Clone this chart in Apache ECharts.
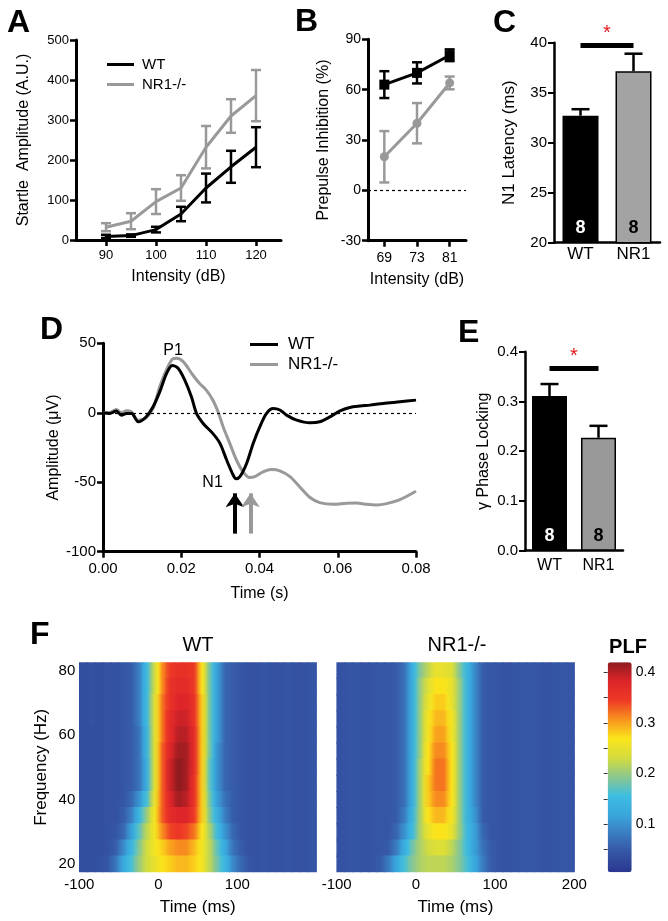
<!DOCTYPE html>
<html><head><meta charset="utf-8">
<script src="https://cdn.jsdelivr.net/npm/echarts@6/dist/echarts.min.js"></script>
<style>html,body{margin:0;padding:0;background:#fff}#c{width:668px;height:921px}</style>
</head><body><div id="c"></div>
<script>
// ---------------- DATA ----------------
// Panel A: startle amplitude
const dbA = [90, 95, 100, 105, 110, 115, 120];
const wtA = [9, 11, 26, 65, 130, 183, 232];
const wtAErr = [4, 3, 7, 18, 36, 40, 50];
const nrA = [32, 47, 96, 130, 232, 310, 361];
const nrAErr = [10, 20, 31, 32, 53, 42, 64];
const ticksAX = [90, 100, 110, 120];

// Panel B: prepulse inhibition
const catsB = ['69', '73', '81'];
const wtB = [63, 70, 80.5];
const wtBErr = [8, 6.3, 3.5];
const nrB = [20, 40, 64];
const nrBErr = [15.3, 12, 3.8];

// Panel C: N1 latency
const catsC = ['WT', 'NR1'];
const meanC = [32.7, 37.15];
const semC = [0.65, 1.75];
const nC = [8, 8];
const sigC = 39.7;

// Panel D: ERP traces
const tWT = [0, .0017, .0034, .0047, .006, .0073, .009, .011, .0128, .0145, .0162, .0177, .0192, .0209, .0226, .0239, .0256, .0281, .0299, .0316, .0333, .034, .035, .0367, .0384, .0401, .0418, .0435, .0452, .0469, .0495, .0529, .0554, .058, .0606, .0631, .0657, .0682, .0716, .0759, .08];
const vWT = [0, -.5, 1.2, -1.7, -.5, -.5, -6.5, -3, 4.3, 15, 28, 34, 32, 23.5, 11.5, -.5, -7.7, -15, -22, -34, -45, -47.5, -46, -36.5, -22, -10, -.5, 3, 2, -1.7, -5.3, -7.2, -6.5, -3, 1.4, 3.8, 4.8, 5.5, 6.7, 7.9, 9.1];
const tNR = [0, .0017, .0034, .0047, .006, .0072, .009, .0111, .0128, .0145, .0162, .0177, .0188, .0205, .023, .0247, .0264, .0281, .0294, .0307, .0324, .0341, .0358, .0375, .0388, .0409, .0431, .0452, .0478, .0503, .0529, .0554, .0588, .0623, .0648, .0674, .0699, .0725, .0759, .08];
const vNR = [0, .2, 2.4, 0, 1.4, .7, -5.3, -3.4, 3.1, 18.7, 30.8, 38.5, 39.2, 36.8, 27, 21, 16.3, 9, .7, -10, -22, -34, -42.5, -46.6, -46, -42.5, -40.9, -41.8, -46, -53.4, -61, -64.7, -65.9, -65.1, -64.9, -65.9, -66.3, -65.4, -62.5, -56.5];
const arrowT = [0.0337, 0.0377];
const arrowFrom = -87, arrowTo = -58;
const peakNames = ['P1', 'N1'];
const peakT = [0.0179, 0.028];
const peakV = [45, -50];

// Panel E: gamma phase locking
const catsE = ['WT', 'NR1'];
const meanE = [0.311, 0.227];
const semE = [0.024, 0.024];
const nE = [8, 8];
const sigE = 0.367;

// Panel F: phase-locking factor (rows top 80 Hz -> bottom 20 Hz), 10 ms x 5 Hz bins
const timeBins = [-95,-85,-75,-65,-55,-45,-35,-25,-15,-5,5,15,25,35,45,55,65,75,85,95,105,115,125,135,145,155,165,175,185,195];
const freqBins = [80,75,70,65,60,55,50,45,40,35,30,25,20];
const plfWT = [
 [.035,.04,.035,.04,.04,.045,.05,.08,.15,.23,.31,.35,.36,.36,.35,.27,.18,.11,.06,.05,.045,.04,.04,.045,.04,.04,.045,.04,.04,.045],
 [.035,.04,.035,.04,.04,.045,.05,.08,.15,.23,.31,.36,.37,.37,.35,.27,.18,.11,.06,.05,.045,.04,.04,.045,.04,.04,.045,.04,.04,.045],
 [.035,.04,.035,.04,.04,.045,.05,.08,.15,.24,.32,.36,.38,.38,.36,.28,.18,.11,.06,.05,.045,.04,.04,.045,.04,.04,.045,.04,.04,.045],
 [.035,.04,.035,.04,.04,.045,.05,.08,.15,.24,.32,.37,.39,.39,.36,.28,.18,.11,.06,.05,.045,.04,.04,.045,.04,.04,.045,.04,.04,.045],
 [.035,.035,.035,.04,.04,.045,.05,.07,.14,.24,.32,.37,.40,.40,.37,.28,.18,.11,.06,.05,.045,.04,.04,.045,.04,.04,.045,.04,.04,.045],
 [.035,.035,.035,.04,.04,.045,.05,.07,.14,.24,.33,.38,.41,.41,.37,.28,.18,.10,.06,.05,.045,.04,.04,.045,.04,.04,.045,.04,.04,.045],
 [.035,.035,.035,.04,.04,.045,.05,.07,.13,.24,.33,.39,.42,.41,.37,.28,.17,.10,.06,.05,.045,.04,.04,.045,.04,.04,.045,.04,.04,.045],
 [.035,.035,.035,.04,.04,.045,.05,.07,.13,.24,.33,.39,.42,.41,.36,.28,.17,.10,.06,.05,.045,.04,.04,.045,.04,.04,.045,.04,.04,.045],
 [.035,.035,.035,.04,.04,.045,.06,.10,.16,.25,.33,.38,.41,.40,.36,.28,.18,.11,.07,.05,.045,.04,.04,.045,.04,.04,.045,.04,.04,.045],
 [.035,.035,.035,.04,.04,.05,.08,.14,.20,.26,.33,.37,.38,.38,.35,.28,.19,.13,.08,.05,.045,.04,.04,.045,.04,.04,.045,.04,.04,.045],
 [.035,.035,.035,.04,.045,.06,.11,.17,.22,.26,.31,.34,.35,.34,.32,.27,.21,.15,.10,.06,.045,.04,.04,.045,.04,.04,.045,.04,.04,.045],
 [.035,.035,.035,.04,.05,.09,.14,.19,.23,.26,.28,.30,.31,.31,.29,.26,.22,.17,.12,.07,.05,.04,.04,.045,.04,.04,.045,.04,.04,.045],
 [.035,.035,.04,.045,.07,.12,.16,.20,.23,.25,.27,.28,.29,.29,.28,.26,.22,.18,.14,.09,.06,.045,.04,.045,.04,.04,.045,.04,.04,.045]
];
const plfNR = [
 [.04,.045,.045,.04,.045,.045,.045,.05,.07,.13,.19,.22,.25,.25,.24,.19,.14,.09,.05,.045,.045,.04,.045,.045,.045,.045,.04,.045,.045,.045],
 [.04,.045,.045,.04,.045,.045,.045,.05,.07,.13,.20,.24,.27,.27,.25,.20,.14,.09,.05,.045,.045,.04,.045,.045,.045,.045,.04,.045,.045,.045],
 [.04,.045,.045,.04,.045,.045,.045,.05,.07,.13,.20,.25,.28,.28,.25,.20,.14,.09,.05,.045,.045,.04,.045,.045,.045,.045,.04,.045,.045,.045],
 [.04,.045,.045,.04,.045,.045,.045,.05,.07,.13,.20,.26,.29,.29,.26,.20,.14,.09,.05,.045,.045,.04,.045,.045,.045,.045,.04,.045,.045,.045],
 [.04,.045,.045,.04,.045,.045,.045,.05,.07,.13,.20,.26,.30,.30,.26,.20,.14,.09,.05,.045,.045,.04,.045,.045,.045,.045,.04,.045,.045,.045],
 [.04,.045,.045,.04,.045,.045,.045,.05,.07,.13,.20,.27,.31,.31,.27,.20,.14,.09,.05,.045,.045,.04,.045,.045,.045,.045,.04,.045,.045,.045],
 [.04,.045,.045,.04,.045,.045,.045,.05,.07,.13,.21,.27,.32,.32,.27,.20,.14,.09,.05,.045,.045,.04,.045,.045,.045,.045,.04,.045,.045,.045],
 [.04,.045,.045,.04,.045,.045,.045,.05,.07,.13,.21,.28,.32,.32,.27,.20,.14,.09,.05,.045,.045,.04,.045,.045,.045,.045,.04,.045,.045,.045],
 [.04,.045,.045,.04,.045,.045,.045,.05,.07,.13,.21,.28,.31,.31,.27,.20,.14,.09,.05,.045,.045,.04,.045,.045,.045,.045,.04,.045,.045,.045],
 [.04,.045,.045,.04,.045,.045,.045,.05,.08,.14,.21,.27,.29,.29,.26,.20,.14,.10,.05,.045,.045,.04,.045,.045,.045,.045,.04,.045,.045,.045],
 [.04,.045,.045,.04,.045,.045,.045,.06,.10,.15,.21,.25,.27,.27,.25,.20,.15,.11,.06,.045,.045,.04,.045,.045,.045,.045,.04,.045,.045,.045],
 [.04,.045,.045,.04,.045,.045,.05,.08,.13,.18,.21,.23,.24,.24,.22,.19,.15,.11,.07,.05,.045,.04,.045,.045,.045,.045,.04,.045,.045,.045],
 [.04,.045,.045,.04,.045,.05,.08,.12,.16,.19,.21,.22,.22,.22,.21,.19,.16,.12,.08,.05,.045,.04,.045,.045,.045,.045,.04,.045,.045,.045]
];
const binT = 10, binF = 5;
const plfMin = 0.005, plfMax = 0.42;
const plfTicks = [0.1, 0.2, 0.3, 0.4];

// ---------------- STYLE ----------------
const FONT = '"Liberation Sans", Arial, Helvetica, sans-serif';
const BLACK = '#000', GRAY = '#999999';
const JET = ['#2a3790', '#3553a4', '#3a7bc0', '#39a6dc', '#3dbde2', '#8cc78e', '#d4dc3e', '#fbe51b', '#f8931e', '#ee3a25', '#dd252a', '#8e1b1f'];

// colour lookup with the same linear mapping the visualMap uses
function cmap(v) {
  const f = Math.max(0, Math.min(1, (v - plfMin) / (plfMax - plfMin)));
  return echarts.color.lerp(f, JET);
}

function vAxis(o) {
  const w = o.lineWidth || 3;
  const ax = {
    gridIndex: o.grid, type: o.type || 'value',
    min: o.min, max: o.max, interval: o.interval,
    data: o.data,
    boundaryGap: o.type === 'category' ? true : undefined,
    axisLine: { show: true, onZero: false, lineStyle: { color: BLACK, width: w } },
    axisTick: { show: o.tick !== false, length: 6, inside: false, alignWithLabel: true, lineStyle: { color: BLACK, width: w * 0.85 } },
    axisLabel: { color: BLACK, fontSize: o.fs || 13, fontFamily: FONT, margin: o.margin || 7, formatter: o.fmt },
    splitLine: { show: false },
    name: o.name, nameLocation: 'middle', nameGap: o.gap,
    nameTextStyle: { color: BLACK, fontSize: o.nfs || 16, fontFamily: FONT }
  };
  if (o.custom) { ax.axisTick.customValues = o.custom; ax.axisLabel.customValues = o.custom; }
  return ax;
}

function errRender(capHalf, upOnly, color, width) {
  return function (params, api) {
    const x = api.value(0), m = api.value(1), e = api.value(2);
    const pT = api.coord([x, m + e]);
    const pB = api.coord([x, upOnly ? m : m - e]);
    const st = { stroke: color, lineWidth: width, fill: null };
    const ch = [
      { type: 'line', shape: { x1: pT[0], y1: pT[1], x2: pB[0], y2: pB[1] }, style: st },
      { type: 'line', shape: { x1: pT[0] - capHalf, y1: pT[1], x2: pT[0] + capHalf, y2: pT[1] }, style: st }
    ];
    if (!upOnly) ch.push({ type: 'line', shape: { x1: pB[0] - capHalf, y1: pB[1], x2: pB[0] + capHalf, y2: pB[1] }, style: st });
    return { type: 'group', children: ch };
  };
}

// each cell: colour of its own value at the centre, blended towards its left/right neighbours at the edges
function heatRender(mat) {
  return function (params, api) {
    const t = api.value(0), f = api.value(1), v = api.value(2);
    const nc = timeBins.length;
    const r = Math.floor(params.dataIndex / nc), c = params.dataIndex % nc;
    const vl = c > 0 ? (mat[r][c - 1] + v) / 2 : v;
    const vr = c < nc - 1 ? (mat[r][c + 1] + v) / 2 : v;
    const p0 = api.coord([t - binT / 2, f + binF / 2]);
    const p1 = api.coord([t + binT / 2, f - binF / 2]);
    return { type: 'rect', shape: { x: p0[0] - 0.3, y: p0[1] - 0.6, width: p1[0] - p0[0] + 0.9, height: p1[1] - p0[1] + 1.2 },
      style: { stroke: null, fill: { type: 'linear', x: 0, y: 0, x2: 1, y2: 0, colorStops: [
        { offset: 0, color: cmap(vl) }, { offset: 0.5, color: api.visual('color') }, { offset: 1, color: cmap(vr) }] } } };
  };
}

const grids = [
  { left: 76, top: 40, width: 205, height: 200 },          // A
  { left: 368, top: 39.3, width: 98, height: 201.4 },      // B
  { left: 554, top: 42.7, width: 106, height: 200 },       // C
  { left: 103, top: 343.3, width: 313, height: 208.4 },    // D
  { left: 525, top: 351.7, width: 98, height: 199 },       // E
  { left: 79.3, top: 662.3, width: 237, height: 210 },     // F WT
  { left: 336.7, top: 662.3, width: 237.6, height: 210 },  // F NR1
  { left: 607.7, top: 662.3, width: 24, height: 210 }      // colorbar axis
].map(g => Object.assign({ outerBoundsMode: 'none', containLabel: false }, g));

const heatX = (grid, labels) => ({ gridIndex: grid, type: 'value', position: 'bottom', min: -100, max: 200,
  axisLine: { show: false }, axisTick: { show: false }, splitLine: { show: false },
  axisLabel: { customValues: labels, color: BLACK, fontSize: 15, fontFamily: FONT, margin: 5 },
  name: 'Time (ms)', nameLocation: 'middle', nameGap: 27, nameTextStyle: { color: BLACK, fontSize: 17, fontFamily: FONT } });

const xAxes = [
  vAxis({ grid: 0, min: 84, max: 125, custom: ticksAX, name: 'Intensity (dB)', gap: 29, fs: 13, margin: 9 }),
  vAxis({ grid: 1, type: 'category', data: catsB, name: 'Intensity (dB)', gap: 31, fs: 14, margin: 10 }),
  vAxis({ grid: 2, type: 'category', data: catsC, tick: false, fs: 17, margin: 3, lineWidth: 2.5 }),
  vAxis({ grid: 3, min: 0, max: 0.08, interval: 0.02, fmt: v => v.toFixed(2), name: 'Time (s)', gap: 34, fs: 15, margin: 10 }),
  vAxis({ grid: 4, type: 'category', data: catsE, tick: false, fs: 16, margin: 7, lineWidth: 2.5 }),
  heatX(5, [-100, 0, 100]),
  heatX(6, [-100, 0, 100, 200]),
  { gridIndex: 7, type: 'value', min: 0, max: 1, show: false }
];

const yAxes = [
  vAxis({ grid: 0, min: 0, max: 500, interval: 100, name: 'Startle  Amplitude (A.U.)', gap: 44, fs: 13, margin: 7 }),
  vAxis({ grid: 1, min: -30, max: 90, interval: 30, name: 'Prepulse Inhibition (%)', gap: 36, fs: 14, margin: 7 }),
  vAxis({ grid: 2, min: 20, max: 40, interval: 5, name: 'N1 Latency (ms)', gap: 36, fs: 15, nfs: 17, margin: 7, lineWidth: 2.5 }),
  vAxis({ grid: 3, min: -100, max: 50, interval: 50, name: 'Amplitude (\u03bcV)', gap: 33, fs: 15, margin: 7 }),
  vAxis({ grid: 4, min: 0, max: 0.4, interval: 0.1, fmt: v => v.toFixed(1), name: '\u03b3 Phase Locking', gap: 33, fs: 15, margin: 7, lineWidth: 2.5 }),
  { gridIndex: 5, type: 'value', position: 'left', min: 17.5, max: 82.5, axisLine: { show: false }, axisTick: { show: false }, splitLine: { show: false },
    axisLabel: { customValues: [20, 40, 60, 80], color: BLACK, fontSize: 15, fontFamily: FONT, margin: 4 },
    name: 'Frequency (Hz)', nameLocation: 'middle', nameGap: 29, nameTextStyle: { color: BLACK, fontSize: 17, fontFamily: FONT } },
  { gridIndex: 6, type: 'value', position: 'left', min: 17.5, max: 82.5, axisLine: { show: false }, axisTick: { show: false }, splitLine: { show: false }, axisLabel: { show: false } },
  { gridIndex: 7, type: 'value', position: 'right', min: plfMin, max: plfMax,
    axisLine: { show: false }, splitLine: { show: false },
    axisTick: { show: true, inside: true, length: 4, customValues: [0.05, 0.1, 0.15, 0.2, 0.25, 0.3, 0.35, 0.4], lineStyle: { color: '#333', width: 1 } },
    axisLabel: { customValues: plfTicks, color: BLACK, fontSize: 14, fontFamily: FONT, margin: 4, formatter: v => v.toFixed(1) } }
];

function toCells(mat) {
  const out = [];
  mat.forEach((row, r) => row.forEach((v, c) => out.push([timeBins[c], freqBins[r], v])));
  return out;
}

const series = [];
// ---- A
series.push({ type: 'line', name: 'WT', xAxisIndex: 0, yAxisIndex: 0, data: dbA.map((d, i) => [d, wtA[i]]), symbol: 'none', lineStyle: { color: BLACK, width: 3 }, itemStyle: { color: BLACK }, z: 3 });
series.push({ type: 'line', name: 'NR1-/-', xAxisIndex: 0, yAxisIndex: 0, data: dbA.map((d, i) => [d, nrA[i]]), symbol: 'none', lineStyle: { color: GRAY, width: 3 }, itemStyle: { color: GRAY }, z: 2 });
series.push({ type: 'custom', xAxisIndex: 0, yAxisIndex: 0, data: dbA.map((d, i) => [d, nrA[i], nrAErr[i]]), renderItem: errRender(5, false, GRAY, 2.5), encode: { x: 0, y: 1 }, z: 4, silent: true });
series.push({ type: 'custom', xAxisIndex: 0, yAxisIndex: 0, data: dbA.map((d, i) => [d, wtA[i], wtAErr[i]]), renderItem: errRender(5, false, BLACK, 2.5), encode: { x: 0, y: 1 }, z: 5, silent: true });
// ---- B
series.push({ type: 'line', xAxisIndex: 1, yAxisIndex: 1, data: nrB, symbol: 'circle', symbolSize: 9, lineStyle: { color: GRAY, width: 3 }, itemStyle: { color: GRAY }, z: 2,
  markLine: { silent: true, symbol: 'none', label: { show: false }, lineStyle: { color: BLACK, width: 1.2, type: [3, 3] }, data: [{ yAxis: 0 }] } });
series.push({ type: 'line', xAxisIndex: 1, yAxisIndex: 1, data: wtB, symbol: 'rect', symbolSize: 10, lineStyle: { color: BLACK, width: 3 }, itemStyle: { color: BLACK }, z: 3 });
series.push({ type: 'custom', xAxisIndex: 1, yAxisIndex: 1, data: nrB.map((v, i) => [i, v, nrBErr[i]]), renderItem: errRender(5, false, GRAY, 2.5), encode: { x: 0, y: 1 }, z: 4, silent: true });
series.push({ type: 'custom', xAxisIndex: 1, yAxisIndex: 1, data: wtB.map((v, i) => [i, v, wtBErr[i]]), renderItem: errRender(5, false, BLACK, 2.5), encode: { x: 0, y: 1 }, z: 5, silent: true });
// ---- C
series.push({ type: 'bar', xAxisIndex: 2, yAxisIndex: 2, barWidth: 36,
  data: meanC.map((v, i) => ({ value: v, itemStyle: { color: i ? '#a3a3a3' : BLACK, borderColor: BLACK, borderWidth: i ? 1.5 : 0 }, label: { color: i ? BLACK : '#fff' } })),
  label: { show: true, position: 'insideBottom', distance: 6, formatter: p => String(nC[p.dataIndex]), fontSize: 18, fontWeight: 'bold', fontFamily: FONT },
  markLine: { silent: true, symbol: 'none', lineStyle: { color: BLACK, width: 5, type: 'solid' },
    label: { show: true, position: 'middle', formatter: '*', color: '#e41a1c', fontSize: 20, fontFamily: FONT, distance: 2 },
    data: [[{ coord: [catsC[0], sigC] }, { coord: [catsC[1], sigC] }]] } });
series.push({ type: 'custom', xAxisIndex: 2, yAxisIndex: 2, data: meanC.map((v, i) => [i, v, semC[i]]), renderItem: errRender(9, true, BLACK, 2.5), encode: { x: 0, y: 1 }, z: 5, silent: true });
// ---- D
series.push({ type: 'line', name: 'WT', xAxisIndex: 3, yAxisIndex: 3, data: tWT.map((t, i) => [t, vWT[i]]), symbol: 'none', smooth: 0.3, lineStyle: { color: BLACK, width: 3 }, itemStyle: { color: BLACK }, z: 3,
  markLine: { silent: true, symbol: 'none', label: { show: false }, lineStyle: { color: BLACK, width: 1.2, type: [3, 3] }, data: [{ yAxis: 0 }] },
  markPoint: { silent: true, symbol: 'circle', symbolSize: 1, itemStyle: { color: 'rgba(0,0,0,0)' },
    label: { show: true, position: 'inside', color: BLACK, fontSize: 16, fontFamily: FONT, formatter: p => p.name },
    data: peakNames.map((n, i) => ({ name: n, coord: [peakT[i], peakV[i]] })) } });
series.push({ type: 'line', name: 'NR1-/-', xAxisIndex: 3, yAxisIndex: 3, data: tNR.map((t, i) => [t, vNR[i]]), symbol: 'none', smooth: 0.3, lineStyle: { color: GRAY, width: 3 }, itemStyle: { color: GRAY }, z: 2,
  markLine: { silent: true, symbol: ['none', 'arrow'], symbolSize: [14, 14], label: { show: false }, lineStyle: { width: 4, type: 'solid' },
    data: arrowT.map((t, i) => [{ coord: [t, arrowFrom], lineStyle: { color: i ? GRAY : BLACK } }, { coord: [t, arrowTo], itemStyle: { color: i ? GRAY : BLACK } }]) } });
// ---- E
series.push({ type: 'bar', xAxisIndex: 4, yAxisIndex: 4, barWidth: 35,
  data: meanE.map((v, i) => ({ value: v, itemStyle: { color: i ? '#999999' : BLACK, borderColor: BLACK, borderWidth: i ? 1.5 : 0 }, label: { color: i ? BLACK : '#fff' } })),
  label: { show: true, position: 'insideBottom', distance: 6, formatter: p => String(nE[p.dataIndex]), fontSize: 18, fontWeight: 'bold', fontFamily: FONT },
  markLine: { silent: true, symbol: 'none', lineStyle: { color: BLACK, width: 5, type: 'solid' },
    label: { show: true, position: 'middle', formatter: '*', color: '#e41a1c', fontSize: 20, fontFamily: FONT, distance: 2 },
    data: [[{ coord: [catsE[0], sigE] }, { coord: [catsE[1], sigE] }]] } });
series.push({ type: 'custom', xAxisIndex: 4, yAxisIndex: 4, data: meanE.map((v, i) => [i, v, semE[i]]), renderItem: errRender(9, true, BLACK, 2.5), encode: { x: 0, y: 1 }, z: 5, silent: true });
// ---- F
const heatIdx = [];
heatIdx.push(series.length);
series.push({ type: 'custom', xAxisIndex: 5, yAxisIndex: 5, data: toCells(plfWT), renderItem: heatRender(plfWT), encode: { x: 0, y: 1 }, clip: true, silent: true });
heatIdx.push(series.length);
series.push({ type: 'custom', xAxisIndex: 6, yAxisIndex: 6, data: toCells(plfNR), renderItem: heatRender(plfNR), encode: { x: 0, y: 1 }, clip: true, silent: true });

const letters = [['A', 7, 24], ['B', 295, 23.5], ['C', 493, 24.5], ['D', 40, 331.5], ['E', 458, 334], ['F', 30, 636.5]];
const graphic = letters.map(l => ({ type: 'text', left: l[1], top: l[2] - 17, style: { text: l[0], font: 'bold 32px ' + FONT, fill: BLACK } }));
graphic.push({ type: 'text', x: 198, y: 645, style: { text: 'WT', font: '20px ' + FONT, fill: BLACK, align: 'center', verticalAlign: 'middle' } });
graphic.push({ type: 'text', x: 457, y: 645, style: { text: 'NR1-/-', font: '20px ' + FONT, fill: BLACK, align: 'center', verticalAlign: 'middle' } });
graphic.push({ type: 'text', x: 628, y: 647, style: { text: 'PLF', font: 'bold 20px ' + FONT, fill: BLACK, align: 'center', verticalAlign: 'middle' } });

const option = {
  animation: false,
  backgroundColor: '#fff',
  textStyle: { fontFamily: FONT },
  grid: grids,
  xAxis: xAxes,
  yAxis: yAxes,
  legend: [
    { left: 102, top: 52, orient: 'vertical', icon: 'rect', itemWidth: 27, itemHeight: 3, itemGap: 5, selectedMode: false,
      textStyle: { fontSize: 15, color: BLACK, fontFamily: FONT, padding: [0, 0, 0, 3] }, data: ['WT', 'NR1-/-'] },
    { left: 245, top: 331, orient: 'vertical', icon: 'rect', itemWidth: 28, itemHeight: 3, itemGap: 3, selectedMode: false,
      textStyle: { fontSize: 17, color: BLACK, fontFamily: FONT, padding: [0, 0, 0, 5] }, data: ['WT', 'NR1-/-'] }
  ],
  visualMap: {
    type: 'continuous', seriesIndex: heatIdx, dimension: 2, min: plfMin, max: plfMax, calculable: false, show: true,
    left: 607.7, top: 662.3, itemWidth: 24, itemHeight: 210, padding: 0, orient: 'vertical', hoverLink: false,
    inRange: { color: JET }
  },
  graphic: graphic,
  series: series
};

const chart = echarts.init(document.getElementById('c'), null, { renderer: 'canvas' });
chart.setOption(option);
</script>
</body></html>
